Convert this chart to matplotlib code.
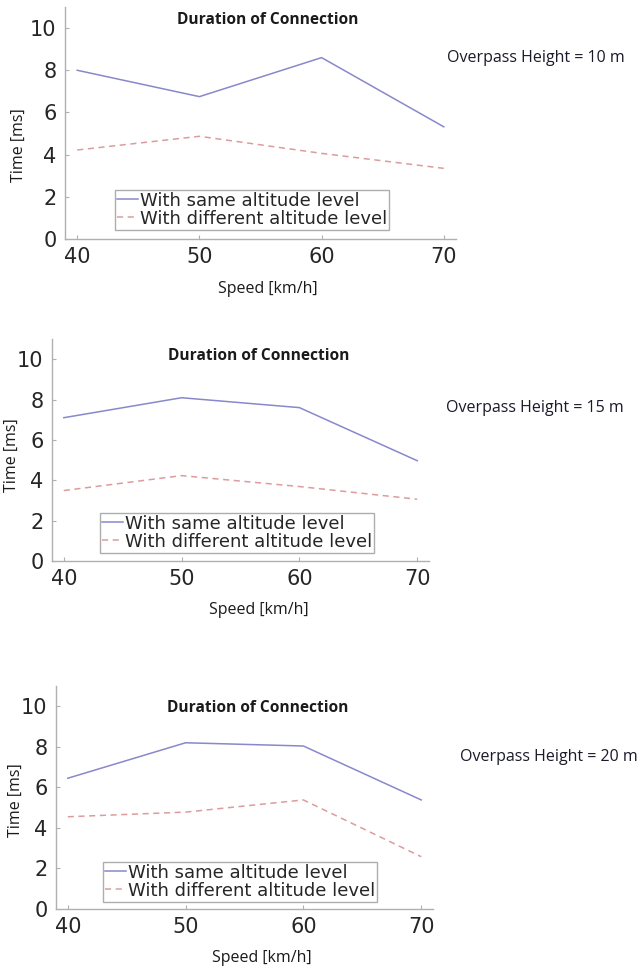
import matplotlib
matplotlib.use("Agg")
import matplotlib.pyplot as plt

speeds = [40, 50, 60, 70]
heights = [10, 15, 20]
same_10 = [8.0, 6.75, 8.6, 5.32]
diff_10 = [4.22, 4.87, 4.06, 3.35]
same_15 = [7.1, 8.09, 7.6, 4.97]
diff_15 = [3.49, 4.23, 3.69, 3.06]
same_20 = [6.45, 8.2, 8.04, 5.38]
diff_20 = [4.55, 4.78, 5.38, 2.58]
yticks = [0, 2, 4, 6, 8, 10]

W, H = 643, 974
fig = plt.figure(figsize=(W / 100, H / 100), dpi=100)

# axes boxes in pixels: left, right, top, bottom
boxes = [(65, 456, 7, 239), (52, 429, 339, 561), (56, 433, 686, 909)]
titles_px = [(268, 20), (259, 356), (258, 708)]
note_px = [(447, 58), (446, 408), (460, 757)]
legend_px = [(115, 190), (100, 513), (103, 862)]
xlab_px = [(268, 289), (259, 610), (262, 958)]
ylab_px = [(19, 145), (12, 455), (16, 800)]

series = [(same_10, diff_10), (same_15, diff_15), (same_20, diff_20)]

text_font = ['Open Sans', 'DejaVu Sans']
for i, (same, diff) in enumerate(series):
    l, r, t, b = boxes[i]
    ax = fig.add_axes([l / W, (H - b) / H, (r - l) / W, (b - t) / H])
    ax.plot(speeds, same, color='#8888cc', lw=1.1, label='With same altitude level')
    ax.plot(speeds, diff, color='#dc9c9c', lw=1.1, ls=(0, (4, 3)),
            label='With different altitude level')
    ax.set_xlim(39, 71)
    ax.set_ylim(0, 11)
    ax.set_xticks(speeds)
    ax.set_yticks(yticks)
    for s in ['top', 'right']:
        ax.spines[s].set_visible(False)
    for s in ['left', 'bottom']:
        ax.spines[s].set_color('#b0b0b0')
        ax.spines[s].set_linewidth(1.0)
    ax.tick_params(direction='in', length=3, color='#b0b0b0', labelsize=15,
                   labelcolor='#262626', pad=6)
    lx, ly = legend_px[i]
    leg = ax.legend(loc='upper left', bbox_to_anchor=(lx / W, 1 - ly / H),
                    bbox_transform=fig.transFigure, fontsize=13,
                    handlelength=1.2, handletextpad=0.1, borderpad=0.1,
                    labelspacing=0.0, frameon=True, fancybox=False,
                    borderaxespad=0)
    leg.get_frame().set_edgecolor('#999999')
    leg.get_frame().set_linewidth(1.0)
    for tx in leg.get_texts():
        tx.set_color('#262626')
    tx_, ty_ = titles_px[i]
    fig.text(tx_ / W, 1 - ty_ / H, 'Duration of Connection', ha='center',
             va='center', fontsize=11.2, fontweight='bold', family=text_font,
             color='#1a1a1a')
    nx, ny = note_px[i]
    fig.text(nx / W, 1 - ny / H, 'Overpass Height = %d m' % heights[i],
             ha='left', va='center', fontsize=11.5, family=text_font,
             color='#1a1a2a')
    xx, xy = xlab_px[i]
    fig.text(xx / W, 1 - xy / H, 'Speed [km/h]', ha='center', va='center',
             fontsize=11.5, family=text_font, color='#1a1a1a')
    yx, yy = ylab_px[i]
    fig.text(yx / W, 1 - yy / H, 'Time [ms]', ha='center', va='center',
             fontsize=11.5, rotation=90, family=text_font, color='#1a1a1a')

fig.savefig('out.png', dpi=100, facecolor='white')
